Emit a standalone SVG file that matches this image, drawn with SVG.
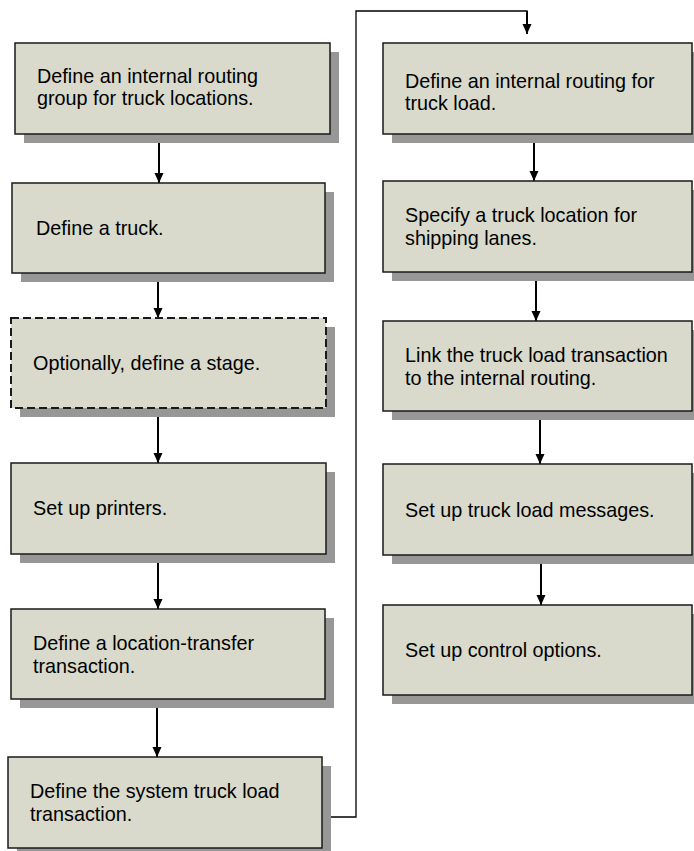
<svg xmlns="http://www.w3.org/2000/svg" width="694" height="851" viewBox="0 0 694 851">
  <defs>
    <marker id="arrow" viewBox="0 0 10 10" refX="10" refY="5" markerWidth="10" markerHeight="10" markerUnits="userSpaceOnUse" orient="auto">
      <path d="M0,0.5 L10,5 L0,9.5 Z" fill="#000"/>
    </marker>
  </defs>
  <style>
    .shadow { fill: #979797; }
    .box { fill: #D9DACB; stroke: #1a1a1a; stroke-width: 1.5; }
    .dashed { stroke-dasharray: 8 4; stroke-width: 2; }
    .label { font-family: "Liberation Sans", Arial, sans-serif; font-size: 19.8px; fill: #000; }
    .flow { stroke: #000; stroke-width: 2; fill: none; }
    .elbow { stroke: #000; stroke-width: 1.3; fill: none; }
  </style>
  <rect width="694" height="851" fill="#fff"/>

  <!-- connectors -->
  <g id="connectors">
    <line class="flow" x1="159" y1="134" x2="159" y2="183" marker-end="url(#arrow)"/>
    <line class="flow" x1="158" y1="273" x2="158" y2="318" marker-end="url(#arrow)"/>
    <line class="flow" x1="158" y1="408" x2="158" y2="463" marker-end="url(#arrow)"/>
    <line class="flow" x1="158" y1="554" x2="158" y2="609" marker-end="url(#arrow)"/>
    <line class="flow" x1="157" y1="699" x2="157" y2="757" marker-end="url(#arrow)"/>
    <polyline class="elbow" points="322,817 356,817 356,11 527,11 527,24"/>
    <line class="flow" x1="527" y1="11" x2="527" y2="34" marker-end="url(#arrow)"/>
    <line class="flow" x1="534" y1="134" x2="534" y2="181" marker-end="url(#arrow)"/>
    <line class="flow" x1="536" y1="272" x2="536" y2="321" marker-end="url(#arrow)"/>
    <line class="flow" x1="540" y1="411" x2="540" y2="464" marker-end="url(#arrow)"/>
    <line class="flow" x1="541" y1="555" x2="541" y2="605" marker-end="url(#arrow)"/>
  </g>

  <!-- left column -->
  <g id="step-routing-group">
    <rect class="shadow" x="24" y="52" width="315" height="91"/>
    <rect class="box" x="15" y="43" width="315" height="91"/>
    <text class="label" x="37" y="83">Define an internal routing</text>
    <text class="label" x="37" y="105">group for truck locations.</text>
  </g>
  <g id="step-truck">
    <rect class="shadow" x="21" y="192" width="313" height="90"/>
    <rect class="box" x="12" y="183" width="313" height="90"/>
    <text class="label" x="36" y="235">Define a truck.</text>
  </g>
  <g id="step-stage">
    <rect class="shadow" x="20" y="327" width="315" height="90"/>
    <rect class="box dashed" x="11" y="318" width="315" height="90"/>
    <text class="label" x="33" y="370">Optionally, define a stage.</text>
  </g>
  <g id="step-printers">
    <rect class="shadow" x="20" y="472" width="315" height="91"/>
    <rect class="box" x="11" y="463" width="315" height="91"/>
    <text class="label" x="33" y="515">Set up printers.</text>
  </g>
  <g id="step-location-transfer">
    <rect class="shadow" x="20" y="618" width="314" height="90"/>
    <rect class="box" x="11" y="609" width="314" height="90"/>
    <text class="label" x="33" y="650">Define a location-transfer</text>
    <text class="label" x="33" y="673">transaction.</text>
  </g>
  <g id="step-system-truck-load">
    <rect class="shadow" x="17" y="766" width="314" height="91"/>
    <rect class="box" x="8" y="757" width="314" height="91"/>
    <text class="label" x="30" y="798">Define the system truck load</text>
    <text class="label" x="30" y="821">transaction.</text>
  </g>

  <!-- right column -->
  <g id="step-truck-load-routing">
    <rect class="shadow" x="392" y="52" width="309" height="91"/>
    <rect class="box" x="383" y="43" width="309" height="91"/>
    <text class="label" x="405" y="88">Define an internal routing for</text>
    <text class="label" x="405" y="110">truck load.</text>
  </g>
  <g id="step-shipping-lanes">
    <rect class="shadow" x="392" y="190" width="309" height="91"/>
    <rect class="box" x="383" y="181" width="309" height="91"/>
    <text class="label" x="405" y="222">Specify a truck location for</text>
    <text class="label" x="405" y="245">shipping lanes.</text>
  </g>
  <g id="step-link-transaction">
    <rect class="shadow" x="392" y="330" width="309" height="90"/>
    <rect class="box" x="383" y="321" width="309" height="90"/>
    <text class="label" x="405" y="362">Link the truck load transaction</text>
    <text class="label" x="405" y="385">to the internal routing.</text>
  </g>
  <g id="step-messages">
    <rect class="shadow" x="392" y="473" width="309" height="91"/>
    <rect class="box" x="383" y="464" width="309" height="91"/>
    <text class="label" x="405" y="517">Set up truck load messages.</text>
  </g>
  <g id="step-control-options">
    <rect class="shadow" x="392" y="614" width="309" height="90"/>
    <rect class="box" x="383" y="605" width="309" height="90"/>
    <text class="label" x="405" y="657">Set up control options.</text>
  </g>
</svg>
